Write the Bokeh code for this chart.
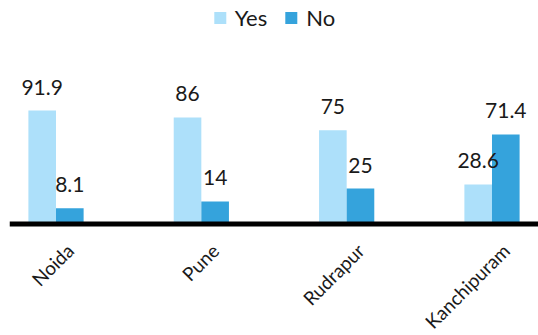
import math
from bokeh.plotting import figure
from bokeh.models import ColumnDataSource, Range1d, Legend, LegendItem, LabelSet, Span
from bokeh.core.properties import value
from bokeh.transform import dodge
from bokeh.embed import file_html
from bokeh.resources import INLINE

cities = ["Noida", "Pune", "Rudrapur", "Kanchipuram"]
yes_vals = [91.9, 86, 75, 28.6]
no_vals = [8.1, 14, 25, 71.4]
series_names = ["Yes", "No"]

YES_COLOR = "#ADE0FA"
NO_COLOR = "#35A3DC"
FONT = "Lato"
TEXT = "#1a1a1a"

pos = list(range(len(cities)))
src = ColumnDataSource(dict(
    x=pos,
    city=cities,
    yes=yes_vals,
    no=no_vals,
    yes_t=[f"{v:g}" for v in yes_vals],
    no_t=[f"{v:g}" for v in no_vals],
))

# value axis: baseline slightly below zero, room under it for the category labels
y_base = -5.4
y_lo, y_hi = -101.0, 186.3
p = figure(width=538, height=335, output_backend="svg", toolbar_location=None,
           x_range=Range1d(-0.32, 3.32), y_range=Range1d(y_lo, y_hi),
           x_axis_location=None, y_axis_location=None,
           min_border_left=9, min_border_right=0, min_border_top=0, min_border_bottom=0)
p.outline_line_color = None
p.xgrid.visible = False
p.ygrid.visible = False
p.background_fill_color = "white"
p.border_fill_color = "white"

bw = 0.19
r_yes = p.vbar(x=dodge("x", -bw / 2, range=p.x_range), top="yes", bottom=y_base, width=bw,
               source=src, fill_color=YES_COLOR, line_color=None)
r_no = p.vbar(x=dodge("x", bw / 2, range=p.x_range), top="no", bottom=y_base, width=bw,
              source=src, fill_color=NO_COLOR, line_color=None)

p.add_layout(Span(location=y_base, dimension="width", line_color="black", line_width=5))

for col, txt, off in (("yes", "yes_t", -bw / 2), ("no", "no_t", bw / 2)):
    p.add_layout(LabelSet(x=dodge("x", off, range=p.x_range), y=col, text=txt, source=src,
                          text_align="center", text_baseline="alphabetic", y_offset=16,
                          text_font=value(FONT), text_font_size=value("21px"),
                          text_color=value(TEXT)))

# category labels, rotated 45 degrees under the baseline
p.text(x="x", y=y_base, text="city", source=src, angle=math.pi / 4,
       text_align="right", text_baseline="middle", x_offset=14, y_offset=23,
       text_font=value(FONT), text_font_size=value("19px"), text_color=TEXT)

legend = Legend(items=[LegendItem(label=series_names[0], renderers=[r_yes]),
                       LegendItem(label=series_names[1], renderers=[r_no])],
                location="top_center", orientation="horizontal",
                label_text_font=FONT, label_text_font_size="22px", label_text_color=TEXT,
                glyph_width=15, glyph_height=15, label_standoff=8, spacing=16,
                border_line_color=None, background_fill_alpha=0, margin=4, padding=8)
p.add_layout(legend)

open("out.html", "w").write(file_html(p, INLINE))
